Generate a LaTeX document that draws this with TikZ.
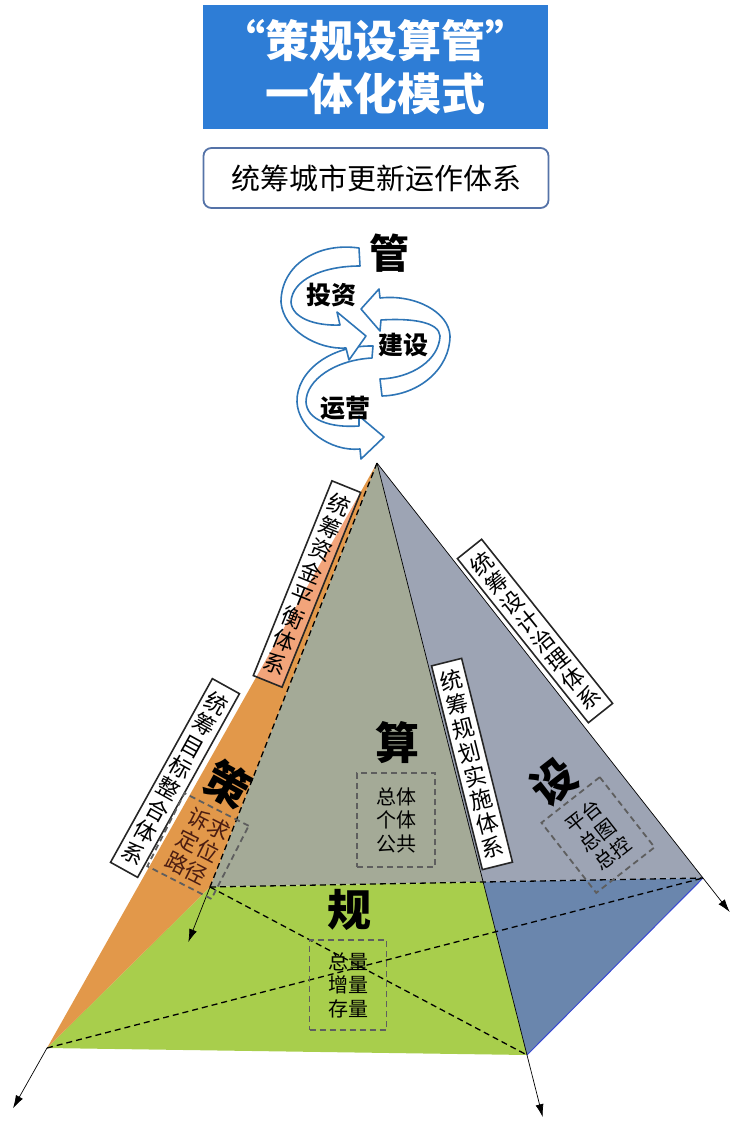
\documentclass[tikz,border=0pt]{standalone}
\usepackage{fontspec}
\setmainfont{Noto Sans CJK SC}
\usetikzlibrary{arrows.meta,calc}

\definecolor{titleblue}{HTML}{2E7DD6}
\definecolor{framegray}{HTML}{5573A8}
\definecolor{ribbonblue}{HTML}{2E75B6}
\definecolor{facegray}{HTML}{A4AA97}
\definecolor{basegreen}{HTML}{A8CE4C}
\definecolor{sideorange}{HTML}{E2984A}
\definecolor{lightorange}{HTML}{F2A47A}
\definecolor{faceblue}{HTML}{9DA4B4}
\definecolor{basenavy}{HTML}{6A86AD}
\definecolor{dashgray}{HTML}{5E5E5E}
\definecolor{textbrown}{HTML}{4B1D12}

\tikzset{
	ribbon/.style={draw=ribbonblue, line width=1.6pt, fill=white, line join=round},
	hidden/.style={black, line width=1.3pt, dash pattern=on 6pt off 4pt},
	edge/.style={black, line width=0.7pt},
	ray/.style={black, line width=0.7pt, -{Latex[length=13pt,width=8pt]}},
	sidebox/.style={draw=black!85, line width=1.6pt, fill=white, minimum width=31pt, minimum height=210pt, inner sep=0pt, align=center, font=\fontsize{22.5}{24.5}\selectfont},
	dashbox/.style={draw=dashgray, line width=1.8pt, dash pattern=on 6pt off 4pt, align=center, inner sep=0pt, font=\fontsize{20}{23.5}\selectfont},
	bigchar/.style={font=\fontsize{44}{44}\bfseries\selectfont, inner sep=0pt},
	cyclelabel/.style={font=\fontsize{25}{25}\bfseries\selectfont, inner sep=0pt}
}

\begin{document}
\begin{tikzpicture}[x=1pt, y=-1pt]
	\useasboundingbox (0,0) rectangle (750,1136);
	
	%title
	\node[fill=titleblue, text=white, minimum width=345pt, minimum height=124pt, align=center, font=\fontsize{44}{53}\bfseries\selectfont] (title) at (375,67) {“策规设算管”\\一体化模式};
	\node[draw=framegray, rounded corners=8pt, line width=1.8pt, fill=white, minimum width=345pt, minimum height=60pt, font=\fontsize{29}{29}\selectfont] (system) at (376,178) {统筹城市更新运作体系};
	
	%cycle
	\draw[ribbon] (373,346) .. controls (330,345) and (296,372) .. (297,402)
		.. controls (298,428) and (330,452) .. (360,449) -- (361,459) -- (384,437) -- (359,416) -- (359,426)
		.. controls (330,428) and (307,420) .. (306,402)
		.. controls (306,380) and (335,360) .. (372,358) -- cycle;
	\draw[ribbon] (361,309) -- (379,289) -- (380,298) .. controls (415,294) and (449,312) .. (450,336)
		.. controls (450,368) and (420,395) .. (382,396) -- (380,379)
		.. controls (412,378) and (439,360) .. (440,336)
		.. controls (439,322) and (412,318) .. (381,320) -- (380,331) -- cycle;
	\draw[ribbon] (359,248) .. controls (316,242) and (281,266) .. (281,302)
		.. controls (283,330) and (318,350) .. (346,348) -- (349,360) -- (366,336) -- (337,312) -- (340,325)
		.. controls (315,326) and (292,318) .. (291,302)
		.. controls (292,280) and (322,266) .. (360,266) -- cycle;
	\node[font=\fontsize{40}{40}\bfseries\selectfont, inner sep=0pt] (guan) at (389,253) {管};
	\node[cyclelabel] (invest) at (331,295) {投资};
	\node[cyclelabel] (build) at (403,345) {建设};
	\node[cyclelabel] (operate) at (345,408) {运营};
	
	%pyramid
	\coordinate (A) at (377,463);
	\coordinate (FL) at (47,1048);
	\coordinate (FR) at (527,1055);
	\coordinate (BR) at (703,878);
	\coordinate (BL) at (210,887);
	\coordinate (P) at (intersection of A--FR and BL--BR);
	\coordinate (FLend) at ($(A)!1.103!(FL)$);
	\coordinate (FRend) at ($(A)!1.105!(FR)$);
	\coordinate (BRend) at ($(A)!1.082!(BR)$);
	\coordinate (BLend) at ($(A)!1.13!(BL)$);
	
	\fill[facegray] (A) -- (BL) -- (P) -- cycle;
	\fill[basegreen] (BL) -- (P) -- (FR) -- (FL) -- cycle;
	\fill[sideorange] (A) -- (FL) -- (BL) -- cycle;
	\fill[faceblue] (A) -- (P) -- (BR) -- cycle;
	\fill[basenavy] (P) -- (BR) -- (FR) -- cycle;
	\draw[line width=1pt, blue!45!basenavy] (BR) -- (FR);
	
	%hidden edges
	\draw[hidden] (BL) -- (BR);
	\draw[hidden] (FL) -- (BR);
	\draw[hidden] (BL) -- (FR);
	\draw[hidden] (A) -- (BL);
	
	\draw[ray] (A) -- (FRend);
	\draw[ray] (A) -- (BRend);
	\draw[ray] (FL) -- (FLend);
	\draw[ray] (BL) -- (BLend);
	
	%side labels
	\node[sidebox, rotate=-22, text opacity=1, path picture={\fill[lightorange] (A) -- (FL) -- (BL) -- cycle;}] (fund) at (307,584) {统\\筹\\资\\金\\平\\衡\\体\\系};
	\node[sidebox, rotate=-29] (goal) at (175,778) {统\\筹\\目\\标\\整\\合\\体\\系};
	\node[sidebox, rotate=38.6] (design) at (535,631) {统\\筹\\设\\计\\治\\理\\体\\系};
	\node[sidebox, rotate=14] (plan) at (472,764) {统\\筹\\规\\划\\实\\施\\体\\系};
	
	%faces
	\node[bigchar, rotate=-29] (ce) at (228,784) {策};
	\node[bigchar] (suan) at (397,743) {算};
	\node[bigchar] (gui) at (349,910) {规};
	\node[bigchar, rotate=38] (she) at (554,782) {设};
	
	\node[dashbox, text=textbrown, rotate=-27, minimum width=72pt, minimum height=82pt, font=\fontsize{22}{25}\selectfont] (need) at (198,846) {诉求\\定位\\路径};
	\node[dashbox, minimum width=78pt, minimum height=94pt] (cost) at (396,820) {总体\\个体\\公共};
	\node[dashbox, minimum width=77pt, minimum height=90pt] (volume) at (348,985) {总量\\增量\\存量};
	\node[dashbox, rotate=38, minimum width=74pt, minimum height=89pt] (platform) at (598,835) {平台\\总图\\总控};
\end{tikzpicture}
\end{document}
